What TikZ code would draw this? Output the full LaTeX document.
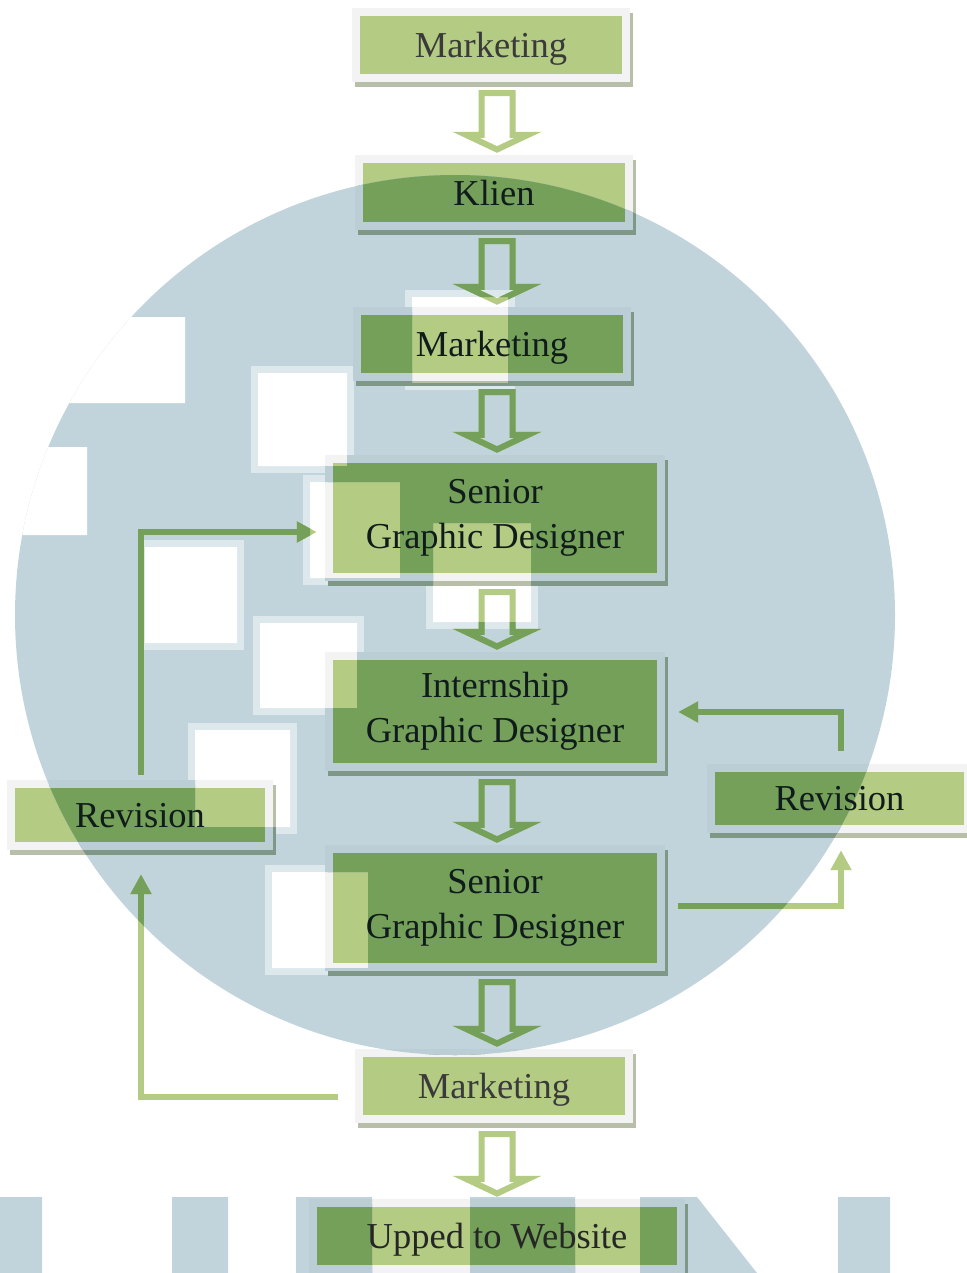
\documentclass[tikz,border=0pt]{standalone}
\usepackage{fontspec}
\setmainfont{Liberation Serif}
\usetikzlibrary{arrows.meta,calc}
\pgfdeclarelayer{bg}
\pgfsetlayers{bg,main}
\definecolor{lgreen}{HTML}{B4CB83}
\definecolor{dgreen}{HTML}{74A05A}
\definecolor{shadowL}{HTML}{B7BFA9}
\definecolor{shadowD}{HTML}{7E9786}
\definecolor{borderL}{HTML}{F3F3F3}
\definecolor{borderD}{HTML}{BBCED5}
\definecolor{wmbg}{HTML}{C2D4DB}
\definecolor{wmring}{HTML}{DDE8EC}
\definecolor{txtgrey}{HTML}{3A3A3A}
\definecolor{txtdark}{HTML}{101C1C}
\tikzset{
  flowbox/.style={inner sep=0pt, align=center, font=\fontsize{36.5}{45}\selectfont, text=txtdark},
  oneline/.style={flowbox, text depth=0pt},
  conn/.style={line width=6.5pt, -{Triangle[length=20pt,width=20pt]}},
}
\newcommand\boxlayers[4]{%
  \fill[#2] ($(#1.north west)+(-5,-3)$) rectangle ($(#1.south east)+(11,13)$);
  \fill[#3] ($(#1.north west)+(-8,-8)$) rectangle ($(#1.south east)+(8,8)$);
  \fill[#4] (#1.north west) rectangle (#1.south east);}
\newcommand\blockarrow[3]{%
  \fill[#3,even odd rule] let \p1=(#1.south), \p2=(#2.north) in
   (478.5pt,{\y1-16pt}) -- (515.5pt,{\y1-16pt}) -- (515.5pt,{\y2+31pt}) -- (541.5pt,{\y2+31pt})
   -- (497pt,{\y2+10pt}) -- (452.5pt,{\y2+31pt}) -- (478.5pt,{\y2+31pt}) -- cycle
   (484.5pt,{\y1-22pt}) -- (509.5pt,{\y1-22pt}) -- (509.5pt,{\y2+25pt}) -- (514.7pt,{\y2+25pt})
   -- (497pt,{\y2+16.6pt}) -- (479.3pt,{\y2+25pt}) -- (484.5pt,{\y2+25pt}) -- cycle;}
\newcommand\feedback[1]{%
  \draw[conn,#1] ($(rl.north)+(1,-13)$) |- ($(s1.west)+(-16,14)$);
  \draw[conn,#1] ($(m3.west)+(-25,11)$) -| ($(rl.south)+(1,32)$);
  \draw[conn,#1] ($(s2.east)+(21,-2)$) -| ($(rr.south)+(1.5,25)$);
  \draw[conn,#1] ($(rr.north)+(1.5,-21)$) |- ($(intern.east)+(21,0.5)$);}
\newcommand\wholediagram[4]{%
  \foreach \bx in {m1,kl,m2,s1,intern,s2,m3,up,rl,rr}{\boxlayers{\bx}{#1}{#2}{#3}}%
  \blockarrow{m1}{kl}{#4}
  \blockarrow{kl}{m2}{#4}
  \blockarrow{m2}{s1}{#4}
  \blockarrow{s1}{intern}{#4}
  \blockarrow{intern}{s2}{#4}
  \blockarrow{s2}{m3}{#4}
  \blockarrow{m3}{up}{#4}
  \feedback{#4}}
% holes of the watermark, written against the outer frame's orientation
\newcommand\wmholes{(347,373) rectangle (258,466) (508,297) rectangle (412,383)
  (400,482) rectangle (310,578) (531,523) rectangle (433,622)
  (237,547) rectangle (145,643) (357,623) rectangle (260,708)
  (290,730) rectangle (195,827) (368,872) rectangle (272,968)
  (185,317) rectangle (40,403) (87,447) rectangle (0,535)}
\newcommand\wmbars{(0,1197) rectangle (42,1273) (172,1197) rectangle (228,1273)
  (296,1197) rectangle (372,1273) (470,1197) rectangle (575,1273)
  (640,1197) -- (697,1197) -- (757,1273) -- (640,1273) -- cycle
  (838,1197) rectangle (890,1273)}
\begin{document}
\begin{tikzpicture}[x=1pt,y=-1pt]
\useasboundingbox (0,0) rectangle (966,1273);
% boxes with their texts
\node[oneline,text=txtgrey,minimum width=262pt,minimum height=58pt] (m1) at (491,45) {Marketing};
\node[oneline,minimum width=262pt,minimum height=59pt] (kl) at (494,192.5) {Klien};
\node[oneline,minimum width=262pt,minimum height=58pt] (m2) at (492,344) {Marketing};
\node[flowbox,minimum width=324pt,minimum height=110pt] (s1) at (495,518) {Senior\\Graphic Designer};
\node[flowbox,minimum width=324pt,minimum height=103pt] (intern) at (495,711.5) {Internship\\Graphic Designer};
\node[flowbox,minimum width=324pt,minimum height=110pt] (s2) at (495,908) {Senior\\Graphic Designer};
\node[oneline,text=txtgrey,minimum width=262pt,minimum height=58pt] (m3) at (494,1086) {Marketing};
\node[oneline,text=black!85,minimum width=360pt,minimum height=58pt] (up) at (497,1236) {Upped to Website};
\node[oneline,minimum width=250pt,minimum height=54pt] (rl) at (140,815) {Revision};
\node[oneline,minimum width=249pt,minimum height=53pt] (rr) at (839.5,798.5) {Revision};
\begin{pgfonlayer}{bg}
  \fill[white] (0,0) rectangle (966,1273);
  % watermark
  \fill[wmbg] (455,615) circle[radius=440];
  \fill[wmbg] \wmbars;
  \begin{scope}
    \clip (455,615) circle[radius=440];
    \foreach \xa/\ya/\xb/\yb in {258/373/347/466,412/297/508/383,310/482/400/578,433/523/531/622,145/547/237/643,260/623/357/708,195/730/290/827,272/872/368/968}{
      \fill[wmring] (\xa-7,\ya-7) rectangle (\xb+7,\yb+7);}
    \fill[white] \wmholes;
  \end{scope}
  % diagram in its own colours
  \wholediagram{shadowL}{borderL}{lgreen}{lgreen}
  % diagram as darkened by the watermark
  \begin{scope}
    \clip (455,615) circle[radius=440];
    \clip (-20,-20) rectangle (990,1300) \wmholes;
    \wholediagram{shadowD}{borderD}{dgreen}{dgreen}
  \end{scope}
  \begin{scope}
    \clip \wmbars;
    \wholediagram{shadowD}{borderD}{dgreen}{dgreen}
  \end{scope}
\end{pgfonlayer}
\end{tikzpicture}
\end{document}
